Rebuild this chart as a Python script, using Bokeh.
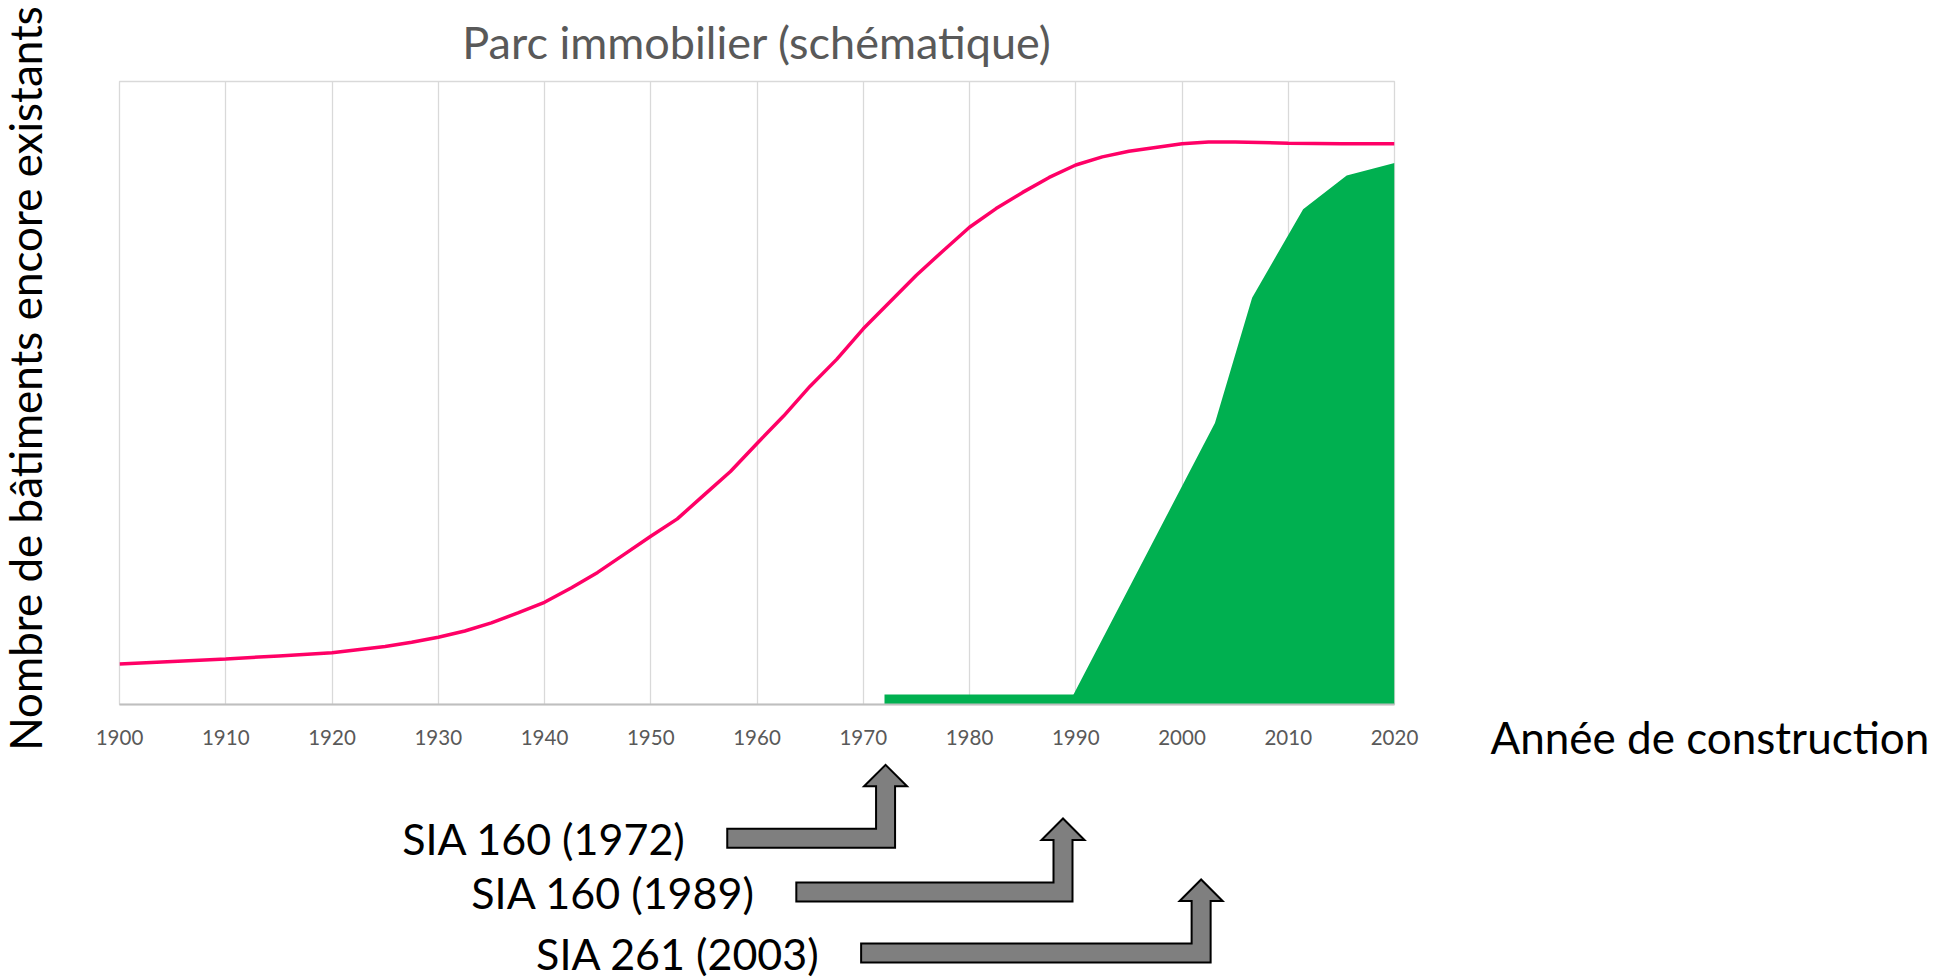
import math
from bokeh.plotting import figure
from bokeh.models import Range1d
from bokeh.layouts import column, row
from bokeh.embed import file_html
from bokeh.resources import INLINE
from bokeh.core.properties import value

# ---------------- data ----------------
years = [1900, 1905, 1910, 1915, 1920, 1925, 1927.5, 1930, 1932.5, 1935, 1937.5, 1940,
         1942.5, 1945, 1947.5, 1950, 1952.5, 1955, 1957.5, 1960, 1962.5, 1965, 1967.5,
         1970, 1972.5, 1975, 1977.5, 1980, 1982.5, 1985, 1987.5, 1990, 1992.5, 1995,
         1997.5, 2000, 2002.5, 2005, 2010, 2015, 2020]
stock = [6.5, 6.9, 7.3, 7.8, 8.3, 9.3, 10.0, 10.8, 11.8, 13.1, 14.7, 16.4,
         18.7, 21.2, 24.1, 27.0, 29.8, 33.6, 37.4, 41.9, 46.3, 51.1, 55.4,
         60.3, 64.6, 68.9, 72.8, 76.6, 79.6, 82.2, 84.6, 86.6, 87.9, 88.8,
         89.4, 90.0, 90.3, 90.3, 90.1, 90.0, 90.0]

early_years = [1972, 1990]
early_level = [1.6, 1.6]

recent_years = [1989.3, 2003.1, 2006.6, 2011.4, 2015.5, 2020]
recent_level = [0.0, 45.2, 65.3, 79.5, 84.9, 86.9]

tick_years = [1900, 1910, 1920, 1930, 1940, 1950, 1960, 1970, 1980, 1990, 2000, 2010, 2020]

norm_names = ["SIA 160 (1972)", "SIA 160 (1989)", "SIA 261 (2003)"]
norm_target = [1972.1, 1988.8, 2001.8]   # year the arrow points at
norm_tail = [1957.2, 1963.7, 1969.8]     # year where the arrow's tail begins

# ---------------- layout ----------------
H = 978
LEFT_W = 89          # column holding the vertical axis title
MAIN_W = 1345
RIGHT_W = 498
IN_L, IN_R = 30, 40  # borders of the chart inside MAIN_W
TOP_H = 758
FRAME_TOP, FRAME_BOTTOM = 80, 704
LOW_H = H - TOP_H

FONT = "Lato"
GRAY_TXT = "#595959"


def blank(width, height, x_range, y_range):
    f = figure(width=width, height=height, x_range=x_range, y_range=y_range,
               output_backend="svg", toolbar_location=None,
               x_axis_location=None, y_axis_location=None,
               min_border_left=0, min_border_right=0, min_border_top=0, min_border_bottom=0)
    f.outline_line_color = None
    f.xgrid.visible = False
    f.ygrid.visible = False
    f.background_fill_color = "white"
    f.border_fill_color = "white"
    return f


# main chart
p = figure(width=MAIN_W, height=TOP_H, x_range=Range1d(1900, 2020), y_range=Range1d(0, 100),
           output_backend="svg", toolbar_location=None, y_axis_location=None,
           min_border_left=IN_L, min_border_right=IN_R,
           min_border_top=FRAME_TOP, min_border_bottom=TOP_H - FRAME_BOTTOM,
           title="Parc immobilier (schématique)")
p.background_fill_color = "white"
p.border_fill_color = "white"
p.outline_line_color = "#D9D9D9"
p.outline_line_width = 1.3

p.title.align = "center"
p.title.text_font = FONT
p.title.text_font_size = "45px"
p.title.text_font_style = "normal"
p.title.text_color = GRAY_TXT
p.title.standoff = 25

p.xaxis.ticker = tick_years
p.xaxis.major_label_text_font = FONT
p.xaxis.major_label_text_font_size = "20.5px"
p.xaxis.major_label_text_color = GRAY_TXT
p.xaxis.major_tick_line_color = None
p.xaxis.minor_tick_line_color = None
p.xaxis.axis_line_color = "#BFBFBF"
p.xaxis.axis_line_width = 2
p.xaxis.major_label_standoff = 19

p.xgrid.grid_line_color = "#D9D9D9"
p.xgrid.grid_line_width = 1.3
p.ygrid.visible = False

p.varea(x=early_years, y1=0, y2=early_level, fill_color="#00B050")
p.varea(x=recent_years, y1=0, y2=recent_level, fill_color="#00B050")
p.line(years, stock, line_color="#FF0066", line_width=3.5)

# vertical axis title (left column)
p0 = blank(LEFT_W, H, Range1d(0, LEFT_W), Range1d(0, H))
p0.text(x=[24], y=[H - 378], text=["Nombre de bâtiments encore existants"], angle=math.pi / 2,
        text_align="center", text_baseline="alphabetic", text_font=value(FONT),
        text_font_size="44px", text_color="black")

# horizontal axis title (right column)
p3 = blank(RIGHT_W, H, Range1d(0, RIGHT_W), Range1d(0, H))
p3.text(x=[56], y=[H - 736], text=["Année de construction"],
        text_align="left", text_baseline="middle", text_font=value(FONT),
        text_font_size="44px", text_color="black")

# lower panel: standards arrows
p2 = figure(width=MAIN_W, height=LOW_H, x_range=p.x_range, y_range=Range1d(0, LOW_H),
            output_backend="svg", toolbar_location=None,
            x_axis_location=None, y_axis_location=None,
            min_border_left=IN_L, min_border_right=IN_R, min_border_top=0, min_border_bottom=0)
p2.outline_line_color = None
p2.xgrid.visible = False
p2.ygrid.visible = False
p2.background_fill_color = "white"
p2.border_fill_color = "white"

px_per_year = (MAIN_W - IN_L - IN_R) / (2020 - 1900)
shaft = 9.5 / px_per_year
head = 21.5 / px_per_year
rows = [H - 847.3, H - 901.0, H - 962.0]
bar_h, rise, head_h = 19.0, 61.5, 21.5

xs, ys = [], []
for tail, tgt, y0 in zip(norm_tail, norm_target, rows):
    y1 = y0 + bar_h
    yb = y0 + rise
    yt = yb + head_h
    xs.append([tail, tgt + shaft, tgt + shaft, tgt + head, tgt, tgt - head, tgt - shaft, tgt - shaft, tail])
    ys.append([y0, y0, yb, yb, yt, yb, yb, y1, y1])
p2.patches(xs, ys, fill_color="#7F7F7F", line_color="black", line_width=2, line_join="miter")

p2.text(x=norm_tail, y=[r + bar_h / 2 for r in rows], text=norm_names, x_offset=-41,
        text_align="right", text_baseline="middle", text_font=value(FONT),
        text_font_size="43px", text_color="black")

layout = row(p0, column(p, p2), p3)
open("out.html", "w").write(file_html(layout, INLINE))
